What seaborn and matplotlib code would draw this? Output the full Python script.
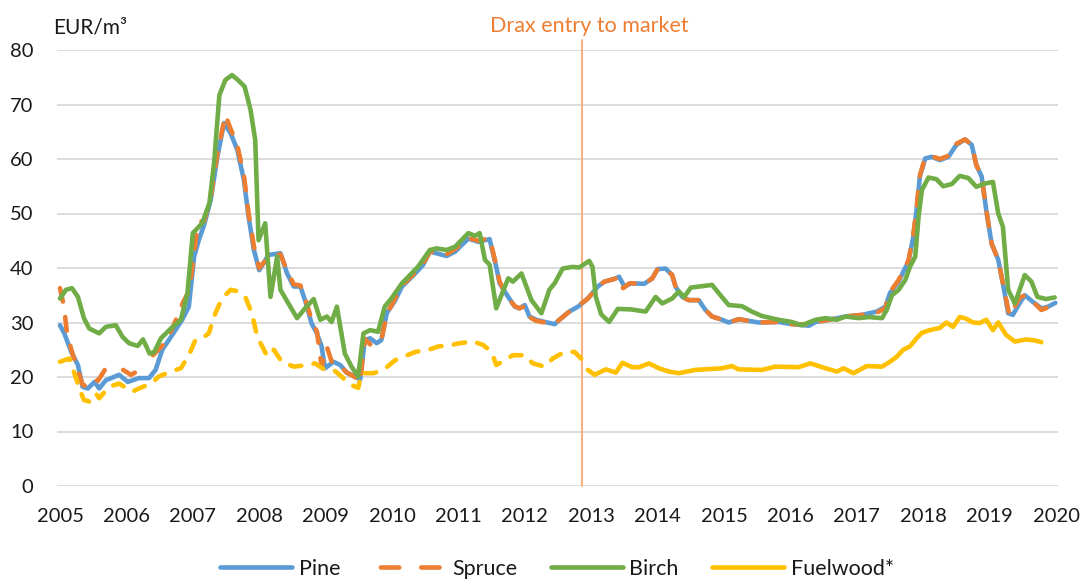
import numpy as np
import pandas as pd
import seaborn as sns
import matplotlib
matplotlib.use("Agg")
import matplotlib.pyplot as plt
from matplotlib.lines import Line2D

# ---------------- data (decimal years, EUR/m3) ----------------
pine_x = [2005.00, 2005.065, 2005.17, 2005.27, 2005.34, 2005.42, 2005.52, 2005.59, 2005.69, 2005.89,
          2006.02, 2006.19, 2006.34, 2006.44, 2006.54, 2006.64, 2006.84, 2006.94, 2007.02, 2007.09,
          2007.17, 2007.27, 2007.37, 2007.47, 2007.57, 2007.67, 2007.77, 2007.84, 2007.92, 2008.00,
          2008.14, 2008.32, 2008.42, 2008.52, 2008.62, 2008.69, 2008.79, 2008.87, 2008.94, 2008.99,
          2009.12, 2009.22, 2009.32, 2009.44, 2009.52, 2009.59, 2009.67, 2009.77, 2009.84, 2009.92,
          2010.05, 2010.15, 2010.25, 2010.35, 2010.47, 2010.57, 2010.67, 2010.82, 2010.95, 2011.15,
          2011.30, 2011.47, 2011.57, 2011.62, 2011.75, 2011.85, 2011.92, 2012.00, 2012.07, 2012.17,
          2012.30, 2012.45, 2012.55, 2012.67, 2012.80, 2012.95, 2013.10, 2013.20, 2013.35, 2013.42,
          2013.50, 2013.60, 2013.80, 2013.92, 2014.00, 2014.12, 2014.22, 2014.27, 2014.37, 2014.47,
          2014.62, 2014.72, 2014.82, 2014.97, 2015.07, 2015.22, 2015.52, 2015.82, 2016.02, 2016.28,
          2016.38, 2016.58, 2016.83, 2017.08, 2017.30, 2017.43, 2017.50, 2017.63, 2017.70, 2017.78,
          2017.85, 2017.90, 2017.95, 2018.03, 2018.13, 2018.25, 2018.38, 2018.50, 2018.63, 2018.73,
          2018.80, 2018.88, 2018.95, 2019.03, 2019.13, 2019.20, 2019.28, 2019.35, 2019.45, 2019.53,
          2019.65, 2019.78, 2019.88, 2019.99]
pine_y = [29.5, 28.0, 24.6, 22.2, 18.2, 17.9, 19.1, 17.9, 19.4, 20.4,
          19.1, 19.8, 19.8, 21.3, 25.0, 26.8, 30.5, 32.9, 42.1, 45.1,
          47.9, 52.5, 60.4, 66.6, 64.7, 61.7, 56.1, 49.4, 43.3, 39.6,
          42.4, 42.7, 39.0, 36.6, 36.6, 34.1, 29.8, 28.0, 25.6, 21.6,
          22.8, 22.2, 20.8, 20.1, 19.5, 26.8, 27.1, 26.2, 26.8, 31.7,
          34.1, 36.6, 37.8, 39.0, 40.6, 43.0, 42.7, 42.2, 43.0, 45.4,
          44.8, 45.3, 40.2, 37.2, 34.7, 32.9, 32.6, 33.2, 31.1, 30.5,
          30.1, 29.7, 30.8, 32.0, 32.9, 34.4, 36.6, 37.5, 38.0, 38.4,
          36.6, 37.2, 37.1, 38.1, 39.8, 39.9, 38.7, 36.6, 34.7, 34.1,
          34.1, 32.3, 31.1, 30.5, 30.0, 30.6, 30.0, 30.1, 29.7, 29.4,
          30.1, 30.5, 31.1, 31.4, 32.0, 32.9, 35.4, 37.5, 39.3, 41.2,
          45.7, 50.6, 56.8, 60.1, 60.4, 59.8, 60.4, 62.6, 63.6, 62.6,
          58.9, 56.8, 50.6, 44.5, 41.5, 37.2, 31.7, 31.4, 33.5, 35.0,
          33.8, 32.6, 32.9, 33.6]

# spruce has gaps (missing months) in 2005-2006
spruce_x = [2005.00, 2005.06, 2005.10, 2005.17, 2005.27, 2005.34, 2005.42, 2005.52, 2005.57, 2005.69,
            2005.95, 2006.07, 2006.20,
            2006.40, 2006.60, 2006.73, 2006.85, 2006.95, 2007.05, 2007.10, 2007.17, 2007.27, 2007.37,
            2007.49, 2007.57, 2007.67, 2007.77, 2007.84, 2007.92, 2008.00, 2008.14, 2008.32, 2008.42,
            2008.52, 2008.62, 2008.69, 2008.79, 2008.87, 2008.94, 2009.02, 2009.10, 2009.22, 2009.32,
            2009.44, 2009.52, 2009.59, 2009.67, 2009.77, 2009.84, 2009.92, 2010.05, 2010.15, 2010.25,
            2010.35, 2010.47, 2010.57, 2010.67, 2010.82, 2010.95, 2011.15, 2011.30, 2011.47, 2011.57,
            2011.62, 2011.75, 2011.85, 2011.92, 2012.00, 2012.07, 2012.17, 2012.30, 2012.45, 2012.55,
            2012.67, 2012.80, 2012.95, 2013.10, 2013.20, 2013.35, 2013.42, 2013.48, 2013.58, 2013.80,
            2013.92, 2014.00, 2014.12, 2014.22, 2014.27, 2014.37, 2014.47, 2014.62, 2014.72, 2014.82,
            2014.97, 2015.07, 2015.22, 2015.52, 2015.82, 2016.02, 2016.28, 2016.38, 2016.58, 2016.83,
            2017.08, 2017.30, 2017.43, 2017.50, 2017.63, 2017.70, 2017.78, 2017.85, 2017.90, 2017.95,
            2018.03, 2018.13, 2018.25, 2018.38, 2018.50, 2018.63, 2018.73, 2018.80, 2018.88, 2018.95,
            2019.03, 2019.13, 2019.20, 2019.30, 2019.45, 2019.53, 2019.65, 2019.78, 2019.88, 2019.99]
spruce_y = [36.3, 32.9, 28.6, 25.0, 21.2, 18.6, 18.2, 19.5, 19.3, 21.6,
            21.3, 20.4, 21.3,
            24.0, 26.5, 30.0, 33.6, 36.0, 45.7, 48.5, 48.6, 53.0, 61.0,
            68.1, 65.5, 62.5, 57.0, 50.0, 44.0, 40.0, 42.0, 42.5, 39.5,
            37.0, 36.8, 34.5, 30.5, 28.3, 22.0, 25.5, 22.5, 22.0, 20.8,
            20.0, 19.0, 27.0, 26.0, 26.2, 26.8, 31.5, 34.5, 36.8, 38.0,
            39.2, 40.8, 43.0, 42.9, 42.5, 43.5, 45.5, 45.0, 45.5, 40.5,
            37.5, 34.5, 33.0, 32.6, 33.0, 31.0, 30.3, 30.0, 29.8, 30.8,
            32.0, 33.0, 34.4, 36.6, 37.5, 38.0, 38.4, 36.3, 37.2, 37.1,
            38.1, 39.8, 39.9, 38.7, 36.6, 34.7, 34.1, 34.1, 32.3, 31.1,
            30.5, 30.0, 30.6, 30.0, 30.1, 29.7, 29.6, 30.1, 30.5, 31.1,
            31.4, 31.8, 32.6, 35.6, 37.8, 39.5, 41.5, 46.0, 51.0, 57.0,
            60.3, 60.5, 60.0, 60.6, 62.8, 63.6, 62.6, 58.9, 56.8, 50.6,
            44.5, 41.5, 37.2, 31.2, 34.5, 35.0, 33.8, 32.3, 32.8, 33.6]
spruce_gap_after = [2005.69, 2006.20]   # months missing after these points

birch_x = [2005.00, 2005.09, 2005.18, 2005.27, 2005.36, 2005.44, 2005.59, 2005.69, 2005.84, 2005.94,
           2006.04, 2006.17, 2006.25, 2006.35, 2006.42, 2006.52, 2006.67, 2006.82, 2006.92, 2007.00,
           2007.07, 2007.14, 2007.25, 2007.32, 2007.40, 2007.49, 2007.59, 2007.68, 2007.78, 2007.87,
           2007.94, 2007.99, 2008.09, 2008.17, 2008.27, 2008.32, 2008.44, 2008.57, 2008.69, 2008.82,
           2008.92, 2009.02, 2009.09, 2009.17, 2009.29, 2009.39, 2009.49, 2009.57, 2009.67, 2009.79,
           2009.89, 2009.99, 2010.15, 2010.27, 2010.39, 2010.57, 2010.67, 2010.82, 2010.95, 2011.15,
           2011.25, 2011.32, 2011.40, 2011.47, 2011.57, 2011.67, 2011.75, 2011.82, 2011.95, 2012.10,
           2012.25, 2012.37, 2012.45, 2012.57, 2012.72, 2012.82, 2012.97, 2013.02, 2013.07, 2013.15,
           2013.27, 2013.40, 2013.60, 2013.82, 2013.97, 2014.07, 2014.22, 2014.32, 2014.40, 2014.50,
           2014.82, 2014.92, 2015.07, 2015.27, 2015.42, 2015.57, 2015.82, 2016.02, 2016.17, 2016.38,
           2016.53, 2016.70, 2016.83, 2017.03, 2017.18, 2017.38, 2017.45, 2017.53, 2017.63, 2017.73,
           2017.80, 2017.88, 2017.93, 2017.98, 2018.08, 2018.20, 2018.30, 2018.43, 2018.55, 2018.68,
           2018.80, 2018.93, 2019.05, 2019.13, 2019.20, 2019.28, 2019.38, 2019.53, 2019.63, 2019.72,
           2019.85, 2019.98]
birch_y = [34.4, 36.0, 36.3, 34.7, 30.8, 28.9, 28.0, 29.2, 29.5, 27.4,
           26.2, 25.7, 26.9, 24.3, 24.6, 27.1, 28.9, 30.5, 35.4, 46.4,
           47.3, 48.2, 51.9, 59.2, 71.7, 74.5, 75.4, 74.5, 73.3, 69.0,
           63.5, 45.1, 48.2, 34.7, 42.1, 36.0, 33.5, 30.8, 32.6, 34.3,
           30.5, 31.1, 30.1, 32.9, 24.3, 21.9, 20.1, 28.0, 28.6, 28.3,
           32.9, 34.4, 37.2, 38.7, 40.2, 43.3, 43.6, 43.3, 43.9, 46.4,
           45.9, 46.4, 41.5, 40.6, 32.6, 35.7, 38.1, 37.5, 39.0, 34.1,
           31.7, 36.0, 37.2, 39.9, 40.2, 40.1, 41.3, 40.2, 34.7, 31.5,
           30.1, 32.5, 32.4, 32.0, 34.7, 33.5, 34.4, 35.7, 34.7, 36.4,
           36.9, 35.4, 33.2, 33.0, 32.0, 31.2, 30.5, 30.1, 29.5, 30.5,
           30.8, 30.5, 31.1, 30.8, 31.0, 30.8, 32.3, 35.0, 36.0, 37.8,
           40.2, 42.1, 49.4, 54.3, 56.6, 56.3, 55.0, 55.4, 56.9, 56.5,
           54.9, 55.5, 55.8, 50.0, 47.6, 36.0, 33.5, 38.7, 37.5, 34.7,
           34.3, 34.6]

# fuelwood: dashed part (before 2013) and solid part (after)
fuel_old_x = [2005.00, 2005.14, 2005.20, 2005.30, 2005.36, 2005.44, 2005.54, 2005.59, 2005.74, 2005.89,
              2006.09, 2006.19, 2006.37, 2006.49, 2006.67, 2006.82, 2006.94, 2007.04, 2007.14, 2007.24,
              2007.34, 2007.44, 2007.57, 2007.69, 2007.79, 2007.89, 2007.97, 2008.05, 2008.12, 2008.22,
              2008.34, 2008.52, 2008.72, 2008.84, 2008.99, 2009.12, 2009.24, 2009.34, 2009.49, 2009.54,
              2009.72, 2009.87, 2010.05, 2010.17, 2010.35, 2010.55, 2010.70, 2010.90, 2011.02, 2011.22,
              2011.37, 2011.50, 2011.57, 2011.70, 2011.82, 2012.00, 2012.12, 2012.30, 2012.42, 2012.60,
              2012.75, 2012.87]
fuel_old_y = [22.8, 23.4, 21.3, 17.6, 15.8, 15.5, 17.0, 16.1, 18.2, 18.8,
              17.3, 17.9, 18.8, 20.1, 21.0, 21.6, 24.0, 26.8, 27.1, 28.0,
              31.7, 34.4, 36.0, 35.7, 34.7, 31.7, 27.4, 25.5, 23.8, 25.0,
              22.8, 21.9, 22.2, 22.5, 21.3, 21.3, 20.1, 18.8, 18.0, 20.7,
              20.7, 21.3, 23.1, 23.7, 24.6, 25.0, 25.6, 25.9, 26.2, 26.5,
              25.9, 24.6, 22.2, 23.1, 24.0, 24.0, 22.5, 21.9, 23.4, 24.6,
              24.6, 23.1]
fuel_new_x = [2012.95, 2013.05, 2013.22, 2013.37, 2013.47, 2013.62, 2013.72, 2013.87, 2014.02, 2014.17,
              2014.32, 2014.57, 2014.97, 2015.12, 2015.22, 2015.57, 2015.77, 2016.12, 2016.30, 2016.53,
              2016.70, 2016.80, 2016.95, 2017.15, 2017.38, 2017.50, 2017.60, 2017.70, 2017.80, 2017.90,
              2017.98, 2018.10, 2018.25, 2018.35, 2018.45, 2018.55, 2018.63, 2018.75, 2018.85, 2018.95,
              2019.05, 2019.13, 2019.25, 2019.38, 2019.55, 2019.68, 2019.78]
fuel_new_y = [21.3, 20.4, 21.4, 20.8, 22.6, 21.8, 21.8, 22.5, 21.6, 21.0,
              20.7, 21.3, 21.6, 22.0, 21.4, 21.3, 21.9, 21.8, 22.5, 21.6,
              21.0, 21.6, 20.7, 22.0, 21.9, 22.8, 23.7, 25.0, 25.6, 27.1,
              28.1, 28.6, 29.0, 30.0, 29.2, 31.0, 30.8, 30.0, 29.9, 30.5,
              28.6, 30.0, 27.7, 26.5, 26.9, 26.7, 26.4]

years = list(range(2005, 2021))
yticks = list(range(0, 90, 10))
drax_year = 2012.86
series_names = ["Pine", "Spruce", "Birch", "Fuelwood*"]

# ---------------- style ----------------
C_PINE, C_SPRUCE, C_BIRCH, C_FUEL = "#5B9BD5", "#ED7D31", "#70AD47", "#FFC000"
sns.set_style("white")
plt.rcParams["font.family"] = ["Lato", "DejaVu Sans"]
FS_TICK = 14.5
FS = 15.5
TXT = "#1a1a1a"

W, H = 1085, 581
fig = plt.figure(figsize=(W / 100, H / 100), dpi=100)
x0, x1, ytop, ybot = 57, 1058, 50, 486
ax = fig.add_axes([x0 / W, 1 - ybot / H, (x1 - x0) / W, (ybot - ytop) / H])

LW = 3.3
pine_df = pd.DataFrame({"year": pine_x, "price": pine_y})
spruce_df = pd.DataFrame({"year": spruce_x, "price": spruce_y})
spruce_df["seg"] = np.searchsorted(spruce_gap_after, spruce_df["year"].values, side="left")
birch_df = pd.DataFrame({"year": birch_x, "price": birch_y})
fo_df = pd.DataFrame({"year": fuel_old_x, "price": fuel_old_y})
fn_df = pd.DataFrame({"year": fuel_new_x, "price": fuel_new_y})

sns.lineplot(data=pine_df, x="year", y="price", color=C_PINE, lw=LW, sort=False,
             estimator=None, ax=ax, solid_capstyle="round", solid_joinstyle="round", zorder=3)
sns.lineplot(data=spruce_df, x="year", y="price", units="seg", color=C_SPRUCE, lw=LW,
             sort=False, estimator=None, ax=ax, linestyle=(0, (3.0, 3.4)),
             dash_capstyle="round", dash_joinstyle="round", zorder=4)
sns.lineplot(data=birch_df, x="year", y="price", color=C_BIRCH, lw=LW, sort=False,
             estimator=None, ax=ax, solid_capstyle="round", solid_joinstyle="round", zorder=5)
sns.lineplot(data=fo_df, x="year", y="price", color=C_FUEL, lw=LW, sort=False,
             estimator=None, ax=ax, linestyle=(0, (2.5, 2.7)),
             dash_capstyle="round", dash_joinstyle="round", zorder=6)
sns.lineplot(data=fn_df, x="year", y="price", color=C_FUEL, lw=LW, sort=False,
             estimator=None, ax=ax, solid_capstyle="round", solid_joinstyle="round", zorder=6)

# axes
ax.set_xlim(2005 - 3 / 66.4, 2020 + 2 / 66.4)
ax.set_ylim(0, 80)
ax.set_xticks(years)
ax.set_xticklabels([str(y) for y in years], fontsize=FS_TICK, color=TXT)
ax.set_yticks(yticks)
ax.set_yticklabels([str(v) for v in yticks], fontsize=FS_TICK, color=TXT)
ax.tick_params(axis="x", length=0, pad=16)
ax.tick_params(axis="y", length=0, pad=17)
ax.set_xlabel("")
ax.set_ylabel("")
ax.grid(axis="y", color="#D9D9D9", lw=1.3, zorder=0)
ax.grid(axis="x", visible=False)
ax.set_axisbelow(True)
for s in ax.spines.values():
    s.set_visible(False)
if ax.get_legend():
    ax.get_legend().remove()

# Drax marker
ax.axvline(drax_year, ymin=0, ymax=(ybot - 40) / (ybot - ytop), color="#F4B183", lw=1.5,
           clip_on=False, zorder=2)
fig.text(589 / W, 1 - 32 / H, "Drax entry to market", color=C_SPRUCE, fontsize=FS,
         ha="center", va="baseline")

# unit label
fig.text(53 / W, 1 - 33 / H, "EUR/m\u00b3", color=TXT, fontsize=FS - 0.5, ha="left", va="baseline")

# legend
handles = [
    Line2D([], [], color=C_PINE, lw=LW, solid_capstyle="round"),
    Line2D([], [], color=C_SPRUCE, lw=LW, linestyle=(7.4, (4.0, 4.8)), dash_capstyle="round"),
    Line2D([], [], color=C_BIRCH, lw=LW, solid_capstyle="round"),
    Line2D([], [], color=C_FUEL, lw=LW, solid_capstyle="round"),
]
fig.legend(handles, series_names, loc="center", bbox_to_anchor=(557 / W, 1 - 569 / H),
           ncol=4, frameon=False, fontsize=FS, handlelength=3.35, handletextpad=0.3,
           columnspacing=1.55, labelcolor=TXT)

fig.savefig("out.png", dpi=100)
